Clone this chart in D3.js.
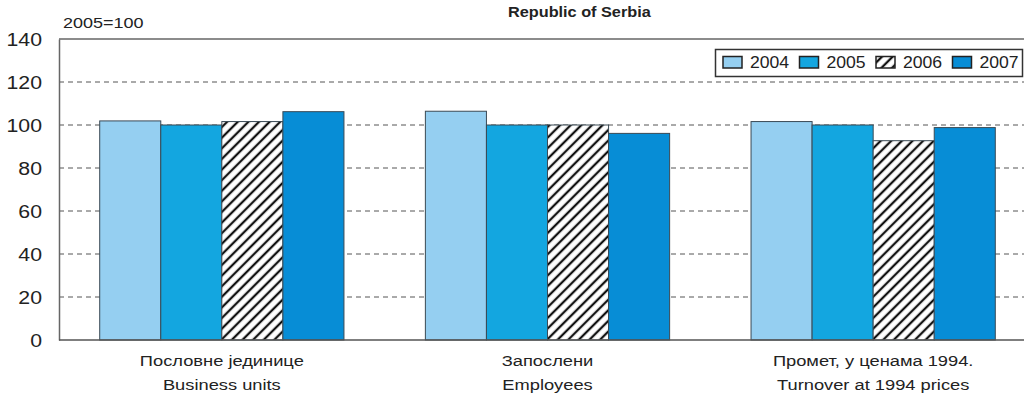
<!DOCTYPE html>
<html>
<head>
<meta charset="utf-8">
<script src="https://cdn.jsdelivr.net/npm/d3@7"></script>
<style>
  html, body { margin: 0; padding: 0; background: #fff; }
  svg { display: block; font-family: "Liberation Sans", Arial, Helvetica, sans-serif; }
</style>
</head>
<body>
<svg id="chart" width="1024" height="394"></svg>
<script>
// ---- data ----
const categories = [
  ["Пословне јединице", "Business units"],
  ["Запослени", "Employees"],
  ["Промет, у ценама 1994.", "Turnover at 1994 prices"]
];
const seriesNames = ["2004", "2005", "2006", "2007"];
const values2004 = [101.9, 106.4, 101.6];
const values2005 = [100.0, 100.0, 100.0];
const values2006 = [101.6, 100.0, 92.7];
const values2007 = [106.2, 96.1, 98.8];
const yTicks = [0, 20, 40, 60, 80, 100, 120, 140];
const title = "Republic of Serbia";
const yNote = "2005=100";

// ---- styles ----
const colors = { "2004": "#95cff1", "2005": "#13a6e0", "2006": "hatch", "2007": "#078dd6" };
const seriesValues = [values2004, values2005, values2006, values2007];

const svg = d3.select("#chart");
const W = 1024, H = 394;
const margin = { left: 59, top: 39, bottom: 340, right: 1036 };

// pattern
const defs = svg.append("defs");
const pat = defs.append("pattern")
  .attr("id", "hatch").attr("patternUnits", "userSpaceOnUse")
  .attr("width", 7.5).attr("height", 10)
  .attr("patternTransform", "rotate(45)");
pat.append("rect").attr("width", 7.5).attr("height", 10).attr("fill", "#fff");
pat.append("line").attr("x1", 3.75).attr("y1", 0).attr("x2", 3.75).attr("y2", 10)
  .attr("stroke", "#111").attr("stroke-width", 2.3);

const fillFor = s => colors[s] === "hatch" ? "url(#hatch)" : colors[s];

const x0 = d3.scaleBand().domain(d3.range(categories.length))
  .range([margin.left, margin.right]).paddingInner(0.25).paddingOuter(0.125);
const x1 = d3.scaleBand().domain(seriesNames).range([0, x0.bandwidth()]).padding(0);
const y = d3.scaleLinear().domain([0, 140]).range([margin.bottom, margin.top]);

function stretchedText(g, x, yy, txt, size, sx, anchor, weight) {
  return g.append("text")
    .attr("transform", `translate(${x},${yy}) scale(${sx},1)`)
    .attr("text-anchor", anchor || "start")
    .attr("font-size", size)
    .attr("font-weight", weight || "normal")
    .attr("fill", "#222")
    .text(txt);
}

// gridlines
svg.append("g").selectAll("line")
  .data(yTicks.filter(t => t > 0 && t < 140))
  .join("line")
  .attr("x1", margin.left).attr("x2", W)
  .attr("y1", d => y(d)).attr("y2", d => y(d))
  .attr("stroke", "#555").attr("stroke-width", 1)
  .attr("stroke-dasharray", "5,4");

// top border
svg.append("line")
  .attr("x1", margin.left).attr("x2", W)
  .attr("y1", y(140)).attr("y2", y(140))
  .attr("stroke", "#666").attr("stroke-width", 1.5);

// bars
const groups = svg.append("g").selectAll("g")
  .data(categories.map((c, i) => i))
  .join("g")
  .attr("transform", i => `translate(${x0(i)},0)`);

groups.selectAll("rect")
  .data(i => seriesNames.map((s, k) => ({ s, v: seriesValues[k][i] })))
  .join("rect")
  .attr("x", d => x1(d.s))
  .attr("width", x1.bandwidth())
  .attr("y", d => y(d.v))
  .attr("height", d => y(0) - y(d.v))
  .attr("fill", d => fillFor(d.s))
  .attr("stroke", "#3a4a55").attr("stroke-width", 1);

// left axis
const yAxis = d3.axisLeft(y).tickValues(yTicks).tickSize(0).tickPadding(0);
const ya = svg.append("g").attr("transform", `translate(${margin.left},0)`).call(yAxis);
ya.select(".domain").attr("stroke", "#666").attr("stroke-width", 1.5);
ya.selectAll(".tick text").remove();
ya.selectAll(".tick").each(function(d) {
  d3.select(this).append("text")
    .attr("transform", `translate(-17,0) scale(1.12,1)`)
    .attr("text-anchor", "end")
    .attr("dy", "0.36em")
    .attr("font-size", 19)
    .attr("fill", "#222")
    .attr("font-family", "Liberation Sans, Arial, sans-serif")
    .text(d);
});

// bottom axis line
svg.append("line")
  .attr("x1", margin.left).attr("x2", W)
  .attr("y1", y(0)).attr("y2", y(0))
  .attr("stroke", "#555").attr("stroke-width", 1.5);

// category labels
const xa = svg.append("g");
categories.forEach((c, i) => {
  const cx = x0(i) + x0.bandwidth() / 2;
  stretchedText(xa, cx, 366, c[0], 15.5, 1.18, "middle");
  stretchedText(xa, cx, 390, c[1], 15.5, 1.18, "middle");
});

// title & note
stretchedText(svg, 508, 17, title, 15.5, 1.05, "start", "bold");
stretchedText(svg, 63, 28, yNote, 15, 1.2, "start");

// legend
const lg = svg.append("g");
lg.append("rect").attr("x", 715.5).attr("y", 49.5).attr("width", 307).attr("height", 27)
  .attr("fill", "#fff").attr("stroke", "#333").attr("stroke-width", 1.5);
seriesNames.forEach((s, k) => {
  const lx = 723 + k * 76.5;
  lg.append("rect").attr("x", lx).attr("y", 56.5).attr("width", 19).attr("height", 11.5)
    .attr("fill", fillFor(s)).attr("stroke", "#222").attr("stroke-width", 1.5);
  stretchedText(lg, lx + 27, 68, s, 16, 1.1, "start");
});
</script>
</body>
</html>
